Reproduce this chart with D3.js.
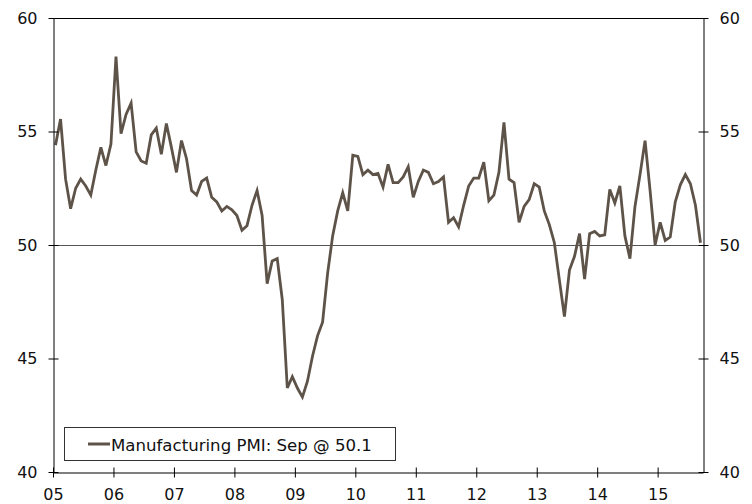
<!DOCTYPE html>
<html>
<head>
<meta charset="utf-8">
<script src="https://cdn.jsdelivr.net/npm/d3@7"></script>
<style>
html,body{margin:0;padding:0;background:#fff;}
svg{display:block;}
text{font-family:"DejaVu Sans",Verdana,sans-serif;fill:#111;}
</style>
</head>
<body>
<svg id="chart" width="752" height="504"></svg>
<script>
const yearLabels = ["05","06","07","08","09","10","11","12","13","14","15"];
const yTicks = [40,45,50,55,60];
const seriesName = "Manufacturing PMI: Sep @ 50.1";
const pmi = [
  54.4, 55.55, 52.9, 51.6, 52.5, 52.9, 52.6, 52.2, 53.3, 54.3, 53.5, 54.45,
  58.3, 54.9, 55.75, 56.25, 54.1, 53.7, 53.6, 54.85, 55.15, 54.0, 55.35, 54.3,
  53.2, 54.6, 53.8, 52.4, 52.2, 52.8, 52.95, 52.1, 51.9, 51.5, 51.7, 51.55,
  51.3, 50.65, 50.85, 51.75, 52.4, 51.3, 48.3, 49.3, 49.4, 47.6, 43.7, 44.2,
  43.7, 43.3, 44.0, 45.1, 46.0, 46.6, 48.75, 50.4, 51.5, 52.3, 51.5, 53.95,
  53.9, 53.1, 53.3, 53.1, 53.15, 52.55, 53.55, 52.75, 52.75, 53.0, 53.45, 52.1,
  52.8, 53.3, 53.2, 52.7, 52.8, 53.0, 51.0, 51.2, 50.8, 51.75, 52.6, 52.95,
  52.95, 53.65, 51.95, 52.2, 53.2, 55.4, 52.9, 52.75, 51.0, 51.7, 52.0, 52.7,
  52.55, 51.5, 50.9, 50.1, 48.45, 46.85, 48.9, 49.5, 50.5, 48.5, 50.5, 50.6,
  50.4, 50.45, 52.45, 51.85, 52.6, 50.4, 49.4, 51.7, 53.1, 54.6, 52.4, 50.0,
  51.0, 50.2, 50.35, 51.9, 52.65, 53.1, 52.7, 51.75, 50.1
];

const svg = d3.select("#chart");
const L = 53, R = 703, T = 18, B = 472;
const lineColor = "#5e5349";

const x = d3.scaleLinear().domain([0, pmi.length]).range([L, R]);
const y = d3.scaleLinear().domain([40, 60]).range([B, T]);

// 50 reference line
svg.append("line")
  .attr("x1", L).attr("x2", R)
  .attr("y1", Math.round(y(50)) + 0.5).attr("y2", Math.round(y(50)) + 0.5)
  .attr("stroke", "#555").attr("stroke-width", 1);

// top border
svg.append("line")
  .attr("x1", L).attr("x2", R)
  .attr("y1", T + 0.5).attr("y2", T + 0.5)
  .attr("stroke", "#000").attr("stroke-width", 1);

// series line
const line = d3.line()
  .x((d, i) => x(i + 0.5))
  .y(d => y(d));
svg.append("path")
  .datum(pmi)
  .attr("d", line)
  .attr("fill", "none")
  .attr("stroke", lineColor)
  .attr("stroke-width", 2.8)
  .attr("stroke-linejoin", "miter");

function styleAxis(g) {
  g.select(".domain").attr("stroke", "#000").attr("stroke-width", 1);
  g.selectAll(".tick line").attr("stroke", "#000").attr("stroke-width", 1);
  g.selectAll(".tick text").attr("font-size", 16).attr("fill", "#111")
    .attr("font-family", '"DejaVu Sans",Verdana,sans-serif');
}

// left axis
const gl = svg.append("g").attr("transform", `translate(${L + 0.5},0)`)
  .call(d3.axisLeft(y).tickValues(yTicks).tickFormat(d3.format("d")).tickSize(5).tickPadding(11).tickSizeOuter(0));
styleAxis(gl);
gl.selectAll(".tick line").attr("x1", 5);

// right axis
const gr = svg.append("g").attr("transform", `translate(${R + 0.5},0)`)
  .call(d3.axisRight(y).tickValues(yTicks).tickFormat(d3.format("d")).tickSize(5).tickPadding(11).tickSizeOuter(0));
styleAxis(gr);
gr.selectAll(".tick line").attr("x1", -5);

// bottom axis
const tickIdx = yearLabels.map((_, i) => i * 12);
const gb = svg.append("g").attr("transform", `translate(0,${B + 0.5})`)
  .call(d3.axisBottom(x).tickValues(tickIdx).tickFormat((d, i) => yearLabels[i]).tickSize(5).tickPadding(11).tickSizeOuter(0));
styleAxis(gb);
gb.selectAll(".tick line").attr("y1", -5);

// legend
const lg = svg.append("g");
lg.append("rect")
  .attr("x", 64.5).attr("y", 427.5).attr("width", 331).attr("height", 33)
  .attr("fill", "#fff").attr("stroke", "#333").attr("stroke-width", 1);
lg.append("line")
  .attr("x1", 88).attr("x2", 110).attr("y1", 444).attr("y2", 444)
  .attr("stroke", lineColor).attr("stroke-width", 3);
lg.append("text")
  .attr("x", 111).attr("y", 450.5)
  .attr("font-size", 16.6)
  .text(seriesName);
</script>
</body>
</html>
